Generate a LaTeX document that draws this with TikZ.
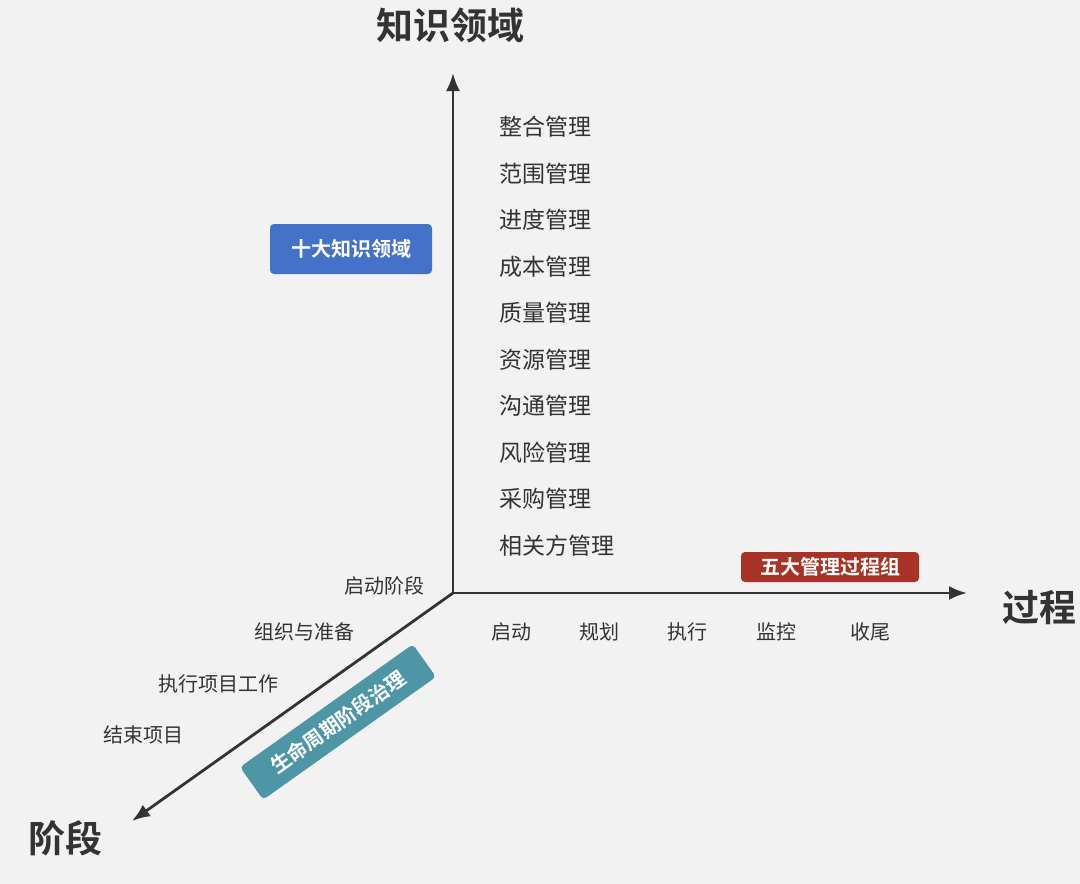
\documentclass[tikz,border=0pt]{standalone}
\usepackage{fontspec}
\setmainfont{Noto Sans CJK SC}
\newfontfamily\cjkb{Noto Sans CJK SC Bold}
\usetikzlibrary{arrows.meta}
\definecolor{bg}{HTML}{F2F2F2}
\definecolor{ax}{HTML}{333333}
\definecolor{txt}{HTML}{333333}
\definecolor{bluebox}{HTML}{4472C9}
\definecolor{redbox}{HTML}{A93226}
\definecolor{tealbox}{HTML}{4E96A6}
\begin{document}
\begin{tikzpicture}[x=1pt,y=-1pt,
  axis/.style={draw=ax,line width=2.8pt,-{Latex[length=18pt,width=14pt]}},
  item/.style={anchor=west,text=txt,font=\fontsize{23}{23}\selectfont,inner sep=0pt},
  small/.style={text=txt,font=\fontsize{20}{20}\selectfont,inner sep=0pt},
  big/.style={text=txt,font=\cjkb\fontsize{37}{37}\selectfont,inner sep=0pt},
  tag/.style={rounded corners=4pt,text=white,font=\cjkb\fontsize{20}{20}\selectfont,inner sep=0pt,align=center}]
\fill[bg] (0,0) rectangle (1080,884);
\useasboundingbox (0,0) rectangle (1080,884);
\coordinate (o) at (453,593);
\coordinate (top) at (453,73);
\coordinate (right) at (967,593);
\coordinate (dl) at (132,821);
\draw[axis] (o) -- (top);
\draw[axis] (o) -- (right);
\draw[axis] (o) -- (dl);
\node[big] (t1) at (450,26) {知识领域};
\node[big] (t2) at (1039,608) {过程};
\node[big] (t3) at (65,838) {阶段};
\node[tag,fill=bluebox,minimum width=162pt,minimum height=50pt] (kb) at (351,249) {十大知识领域};
\node[tag,fill=redbox,minimum width=178pt,minimum height=30pt] (pb) at (830,567) {五大管理过程组};
\node[tag,fill=tealbox,minimum width=212pt,minimum height=40pt,rotate=35.4] (lb) at (338,722) {生命周期阶段治理};
\node[item] (k1) at (499,127) {整合管理};
\node[item] (k2) at (499,174) {范围管理};
\node[item] (k3) at (499,220) {进度管理};
\node[item] (k4) at (499,267) {成本管理};
\node[item] (k5) at (499,313) {质量管理};
\node[item] (k6) at (499,360) {资源管理};
\node[item] (k7) at (499,406) {沟通管理};
\node[item] (k8) at (499,453) {风险管理};
\node[item] (k9) at (499,499) {采购管理};
\node[item] (k10) at (499,546) {相关方管理};
\node[small] (p1) at (511,632) {启动};
\node[small] (p2) at (599,632) {规划};
\node[small] (p3) at (687,632) {执行};
\node[small] (p4) at (776,632) {监控};
\node[small] (p5) at (870,632) {收尾};
\node[small] (s1) at (384,586) {启动阶段};
\node[small] (s2) at (304,632) {组织与准备};
\node[small] (s3) at (218,684) {执行项目工作};
\node[small] (s4) at (143,735) {结束项目};
\end{tikzpicture}
\end{document}
